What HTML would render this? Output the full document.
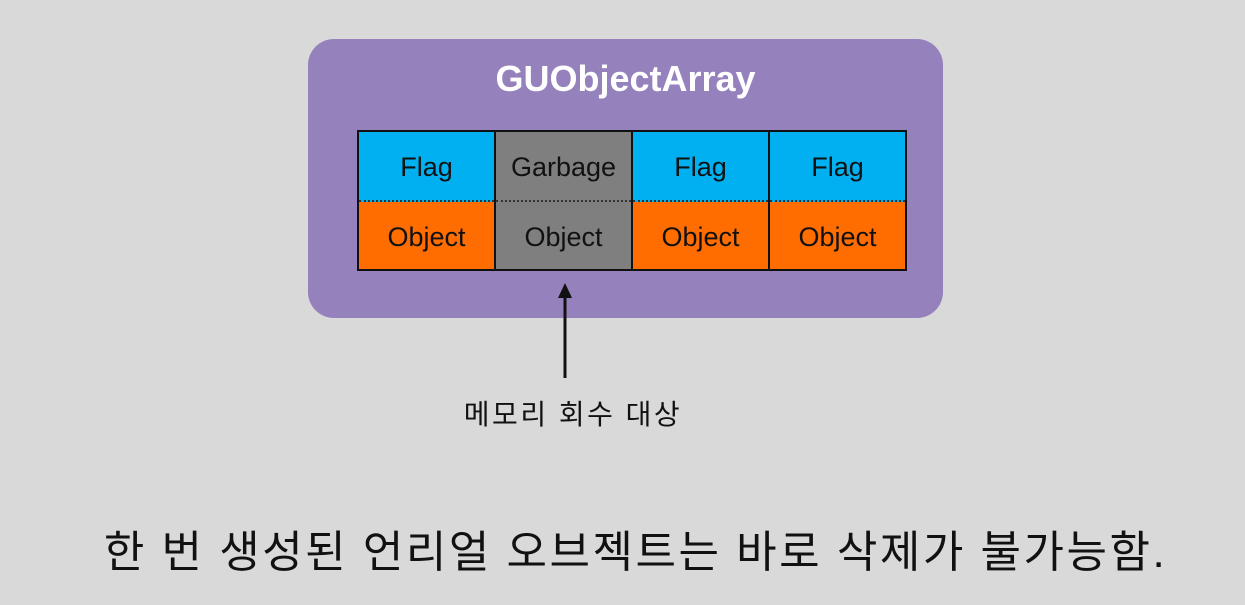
<!DOCTYPE html>
<html><head><meta charset="utf-8"><style>
body{margin:0;width:1245px;height:605px;background:#d9d9d9;position:relative;overflow:hidden;font-family:"Liberation Sans","Noto Sans CJK KR",sans-serif;}
.box{position:absolute;left:308px;top:39px;width:635px;height:279px;background:#9581bc;border-radius:26px;}
.title{position:absolute;left:308px;width:635px;top:58px;text-align:center;color:#fff;font-size:36px;font-weight:bold;}
.grid{position:absolute;left:357px;top:130px;width:546px;height:137px;border:2px solid #111;display:flex;}
.col{flex:1;border-left:2px solid #111;display:flex;flex-direction:column;}
.col:first-child{border-left:none;}
.c{flex:1;display:flex;align-items:center;justify-content:center;font-size:27px;color:#111;padding-top:4px;}
.t{border-bottom:2px dotted #333;}
.b{background:#00b0f0}.o{background:#ff6d00}.g{background:#7f7f7f}
.lbl{position:absolute;left:378px;width:390px;top:393px;text-align:center;font-size:28px;letter-spacing:2.5px;color:#111;}
.sub{position:absolute;left:13px;width:1245px;top:516px;text-align:center;font-size:44px;letter-spacing:2.5px;color:#111;}
</style></head><body>
<div class="box"></div>
<div class="title">GUObjectArray</div>
<div class="grid">
<div class="col"><div class="c t b">Flag</div><div class="c o">Object</div></div>
<div class="col"><div class="c t g">Garbage</div><div class="c g">Object</div></div>
<div class="col"><div class="c t b">Flag</div><div class="c o">Object</div></div>
<div class="col"><div class="c t b">Flag</div><div class="c o">Object</div></div>
</div>
<svg style="position:absolute;left:0;top:0" width="1245" height="605">
<line x1="565" y1="296" x2="565" y2="378" stroke="#111" stroke-width="3"/>
<polygon points="565,283 558,298 572,298" fill="#111"/>
</svg>
<div class="lbl">메모리 회수 대상</div>
<div class="sub">한 번 생성된 언리얼 오브젝트는 바로 삭제가 불가능함.</div>
</body></html>
